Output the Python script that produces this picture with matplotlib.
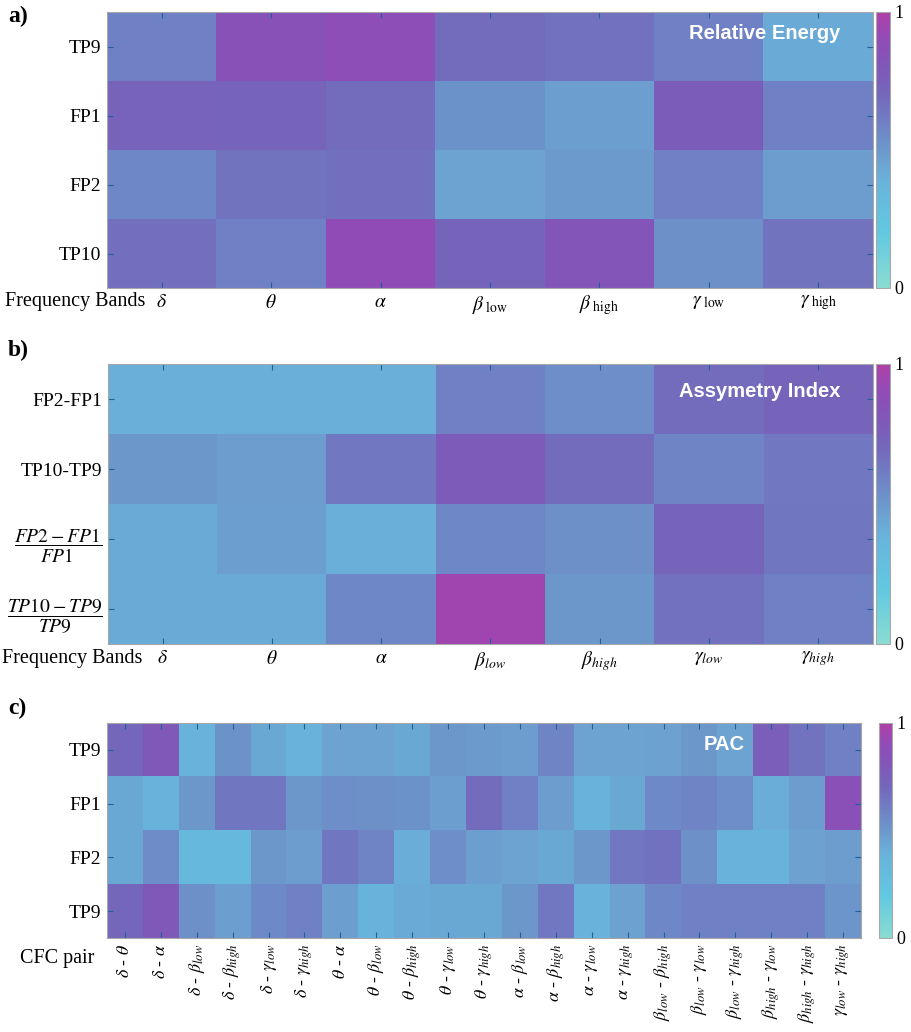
import matplotlib
matplotlib.use('Agg')
import matplotlib.pyplot as plt
import numpy as np
from matplotlib.colors import LinearSegmentedColormap

plt.rcParams['font.family'] = ['Liberation Serif', 'DejaVu Serif']
plt.rcParams['mathtext.fontset'] = 'stix'

# data
bands_a = [r'$\delta$', r'$\theta$', r'$\alpha$', r'$\beta_{\ \mathrm{low}}$', r'$\beta_{\ \mathrm{high}}$',
           r'$\gamma_{\ \mathrm{low}}$', r'$\gamma_{\ \mathrm{high}}$']
bands_b = [r'$\delta$', r'$\theta$', r'$\alpha$', r'$\beta_{low}$', r'$\beta_{high}$',
           r'$\gamma_{low}$', r'$\gamma_{high}$']
chans_a = ['TP9', 'FP1', 'FP2', 'TP10']
chans_b = ['FP2-FP1', 'TP10-TP9', r'$\dfrac{FP2-FP1}{FP1}$', r'$\dfrac{TP10-TP9}{TP9}$']
chans_c = ['TP9', 'FP1', 'FP2', 'TP9']
pairs_c = [r'$\delta$ - $\theta$', r'$\delta$ - $\alpha$', r'$\delta$ - $\beta_{low}$', r'$\delta$ - $\beta_{high}$',
           r'$\delta$ - $\gamma_{low}$', r'$\delta$ - $\gamma_{high}$', r'$\theta$ - $\alpha$',
           r'$\theta$ - $\beta_{low}$', r'$\theta$ - $\beta_{high}$', r'$\theta$ - $\gamma_{low}$',
           r'$\theta$ - $\gamma_{high}$', r'$\alpha$ - $\beta_{low}$', r'$\alpha$ - $\beta_{high}$',
           r'$\alpha$ - $\gamma_{low}$', r'$\alpha$ - $\gamma_{high}$', r'$\beta_{low}$ - $\beta_{high}$',
           r'$\beta_{low}$ - $\gamma_{low}$', r'$\beta_{low}$ - $\gamma_{high}$', r'$\beta_{high}$ - $\gamma_{low}$',
           r'$\beta_{high}$ - $\gamma_{high}$', r'$\gamma_{low}$ - $\gamma_{high}$']

rel_energy = [[0.60, 0.85, 0.88, 0.68, 0.66, 0.60, 0.42],
              [0.73, 0.72, 0.68, 0.52, 0.47, 0.77, 0.60],
              [0.57, 0.65, 0.67, 0.45, 0.49, 0.60, 0.48],
              [0.67, 0.60, 0.90, 0.72, 0.82, 0.53, 0.65]]

asym = [[0.40, 0.40, 0.40, 0.60, 0.54, 0.68, 0.72],
        [0.50, 0.48, 0.63, 0.78, 0.68, 0.58, 0.63],
        [0.42, 0.47, 0.40, 0.57, 0.53, 0.72, 0.64],
        [0.42, 0.42, 0.57, 0.95, 0.50, 0.66, 0.60]]

pac = [[0.70, 0.80, 0.38, 0.52, 0.43, 0.38, 0.45, 0.45, 0.43, 0.50, 0.49, 0.48, 0.58, 0.45, 0.45, 0.46, 0.50, 0.45, 0.76, 0.65, 0.60],
       [0.43, 0.38, 0.50, 0.64, 0.64, 0.50, 0.54, 0.53, 0.52, 0.47, 0.68, 0.60, 0.48, 0.38, 0.43, 0.56, 0.58, 0.54, 0.41, 0.48, 0.87],
       [0.43, 0.55, 0.34, 0.34, 0.50, 0.48, 0.64, 0.58, 0.41, 0.54, 0.47, 0.45, 0.43, 0.50, 0.63, 0.66, 0.53, 0.38, 0.38, 0.46, 0.48],
       [0.70, 0.80, 0.53, 0.47, 0.56, 0.60, 0.47, 0.38, 0.42, 0.43, 0.43, 0.50, 0.63, 0.38, 0.46, 0.57, 0.60, 0.60, 0.60, 0.60, 0.51]]

cmap = LinearSegmentedColormap.from_list('cool_purple', [
    (0.0, '#8adcd2'), (0.2, '#62c8e0'), (0.38, '#68b4dc'), (0.45, '#6ca4d2'),
    (0.5, '#6c98cc'), (0.6, '#7080c4'), (0.7, '#7468bc'), (0.8, '#8058b8'),
    (0.9, '#904cb8'), (1.0, '#b040a8')])

fig = plt.figure(figsize=(9.12, 10.32), dpi=100)
W, H = 912, 1032


def frac(x0, y0, x1, y1):
    return [x0 / W, 1 - y1 / H, (x1 - x0) / W, (y1 - y0) / H]


def heat(ax, cax, data, xlabels, ylabels, title, tpos, rot=0, xfs=14):
    im = ax.imshow(np.array(data), cmap=cmap, vmin=0, vmax=1, aspect='auto', interpolation='nearest')
    ax.set_xticks(range(len(xlabels)))
    ax.set_xticklabels(xlabels, rotation=rot, fontsize=xfs)
    ax.set_yticks(range(len(ylabels)))
    ax.set_yticklabels(ylabels, fontsize=14)
    ax.tick_params(direction='in', length=4, color='#1f5f9f', top=True, right=True, pad=4)
    for s in ax.spines.values():
        s.set_color('#a8a8a8')
        s.set_linewidth(0.8)
    ax.text(tpos[0], tpos[1], title, transform=ax.transAxes, color='white', fontsize=14.5,
            fontweight='bold', family=['Liberation Sans'], ha='center', va='center')
    cb = fig.colorbar(im, cax=cax, ticks=[0, 1])
    cb.ax.tick_params(length=0, labelsize=13, pad=3)
    cb.outline.set_edgecolor('#a8a8a8')
    return im


# panel a
ax_a = fig.add_axes(frac(107, 12, 873, 288))
cax_a = fig.add_axes(frac(876, 12, 890, 288))
heat(ax_a, cax_a, rel_energy, bands_a, chans_a, 'Relative Energy', (0.858, 0.922))
fig.text(5 / W, 1 - 301 / H, 'Frequency Bands', fontsize=14.5, va='center')
fig.text(8 / W, 1 - 16 / H, 'a)', fontsize=17, fontweight='bold', va='center')

# panel b
ax_b = fig.add_axes(frac(108, 364, 873, 644))
cax_b = fig.add_axes(frac(876, 364, 890, 644))
heat(ax_b, cax_b, asym, bands_b, chans_b, 'Assymetry Index', (0.852, 0.902))
fig.text(2 / W, 1 - 659 / H, 'Frequency Bands', fontsize=14.5, va='center')
fig.text(8 / W, 1 - 350 / H, 'b)', fontsize=17, fontweight='bold', va='center')

# panel c
ax_c = fig.add_axes(frac(107, 723, 861, 938))
cax_c = fig.add_axes(frac(879, 723, 892, 938))
heat(ax_c, cax_c, pac, pairs_c, chans_c, 'PAC', (0.818, 0.9), rot=90, xfs=13)
fig.text(20 / W, 1 - 958 / H, 'CFC pair', fontsize=14.5, va='center')
fig.text(8 / W, 1 - 708 / H, 'c)', fontsize=17, fontweight='bold', va='center')

fig.savefig('out.png', dpi=100)
